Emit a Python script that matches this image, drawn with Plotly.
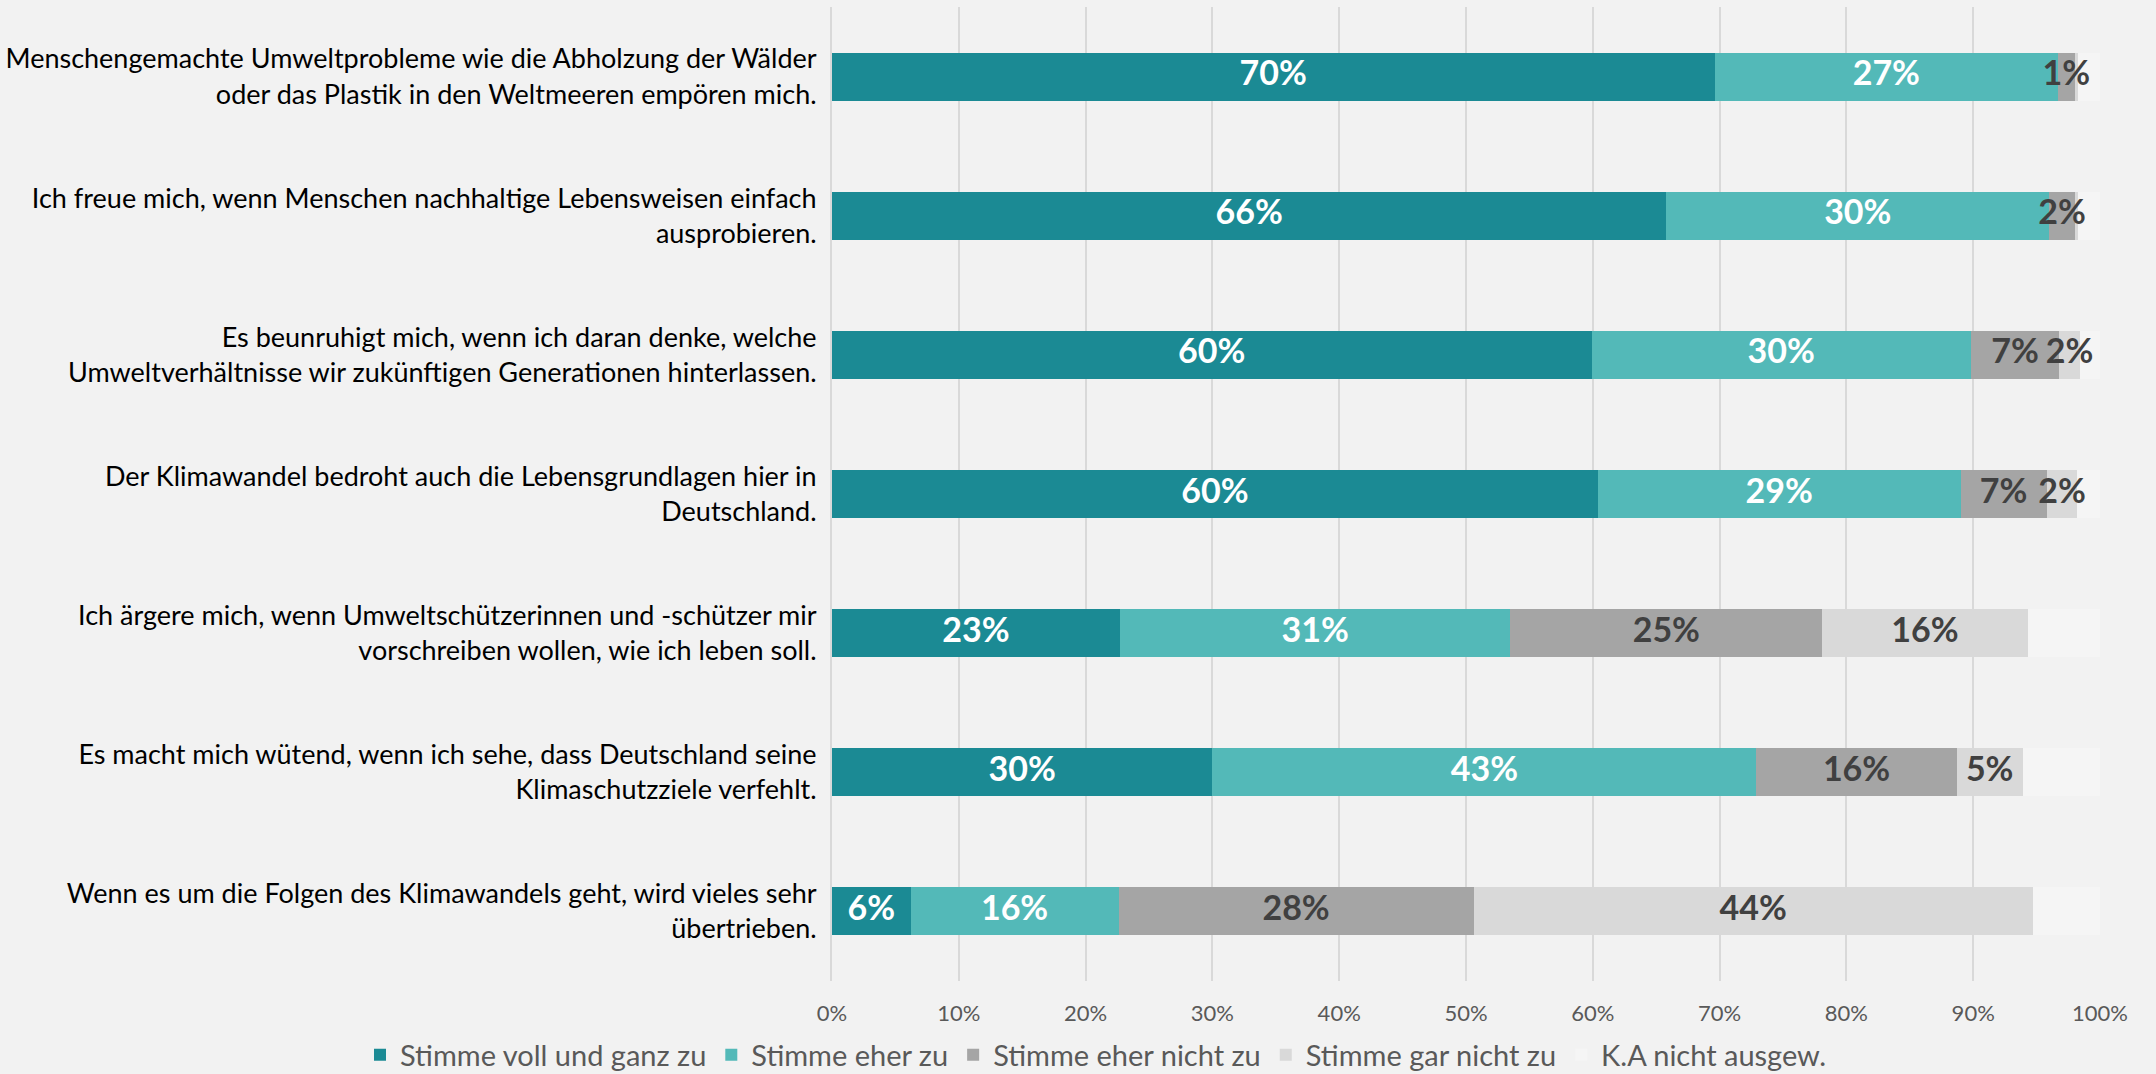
import plotly.graph_objects as go

categories = [
    "Menschengemachte Umweltprobleme wie die Abholzung der Wälder<br>oder das Plastik in den Weltmeeren empören mich.",
    "Ich freue mich, wenn Menschen nachhaltige Lebensweisen einfach<br>ausprobieren.",
    "Es beunruhigt mich, wenn ich daran denke, welche<br>Umweltverhältnisse wir zukünftigen Generationen hinterlassen.",
    "Der Klimawandel bedroht auch die Lebensgrundlagen hier in<br>Deutschland.",
    "Ich ärgere mich, wenn Umweltschützerinnen und -schützer mir<br>vorschreiben wollen, wie ich leben soll.",
    "Es macht mich wütend, wenn ich sehe, dass Deutschland seine<br>Klimaschutzziele verfehlt.",
    "Wenn es um die Folgen des Klimawandels geht, wird vieles sehr<br>übertrieben.",
]

voll_und_ganz = [69.6, 65.8, 59.9, 60.4, 22.7, 30.0, 6.2]
eher_zu = [27.1, 30.2, 29.9, 28.6, 30.8, 42.9, 16.4]
eher_nicht = [1.3, 2.0, 7.0, 6.8, 24.6, 15.8, 28.0]
gar_nicht = [0.3, 0.3, 1.6, 2.4, 16.2, 5.2, 44.1]
keine_angabe = [1.7, 1.7, 1.6, 1.8, 5.7, 6.1, 5.3]

series = [
    ("Stimme voll und ganz zu", voll_und_ganz, "#1B8A94", "#FFFFFF", True),
    ("Stimme eher zu", eher_zu, "#53B9B8", "#FFFFFF", True),
    ("Stimme eher nicht zu", eher_nicht, "#A5A5A5", "#404040", True),
    ("Stimme gar nicht zu", gar_nicht, "#D9D9D9", "#404040", True),
    ("K.A nicht ausgew.", keine_angabe, "#F5F5F5", "#404040", False),
]

tick_vals = [0, 10, 20, 30, 40, 50, 60, 70, 80, 90, 100]
tick_text = [f"{v}%" for v in tick_vals]

FONT = "Lato"
W, H = 2156, 1074
L, R, T, B = 832, 56, 7, 93
plot_h = H - T - B

fig = go.Figure()
for name, vals, color, tcolor, labelled in series:
    fig.add_trace(go.Bar(
        y=categories, x=vals, name=name, orientation="h",
        marker=dict(color=color, line=dict(width=0)),
        hoverinfo="skip",
    ))

# value labels drawn on top of all bars (centred in each segment)
starts = [0.0] * len(categories)
for name, vals, color, tcolor, labelled in series:
    mids, texts = [], []
    for i, v in enumerate(vals):
        mids.append(starts[i] + v / 2)
        texts.append(f"{v:.0f}%" if (labelled and v >= 1) else "")
        starts[i] += v
    if labelled:
        fig.add_trace(go.Scatter(
            x=mids, y=categories, mode="text", text=texts,
            textposition="middle center",
            textfont=dict(family=FONT, size=34, color=tcolor, weight="bold"),
            showlegend=False, hoverinfo="skip",
        ))

fig.update_layout(
    barmode="stack",
    bargap=0.655,
    width=W, height=H,
    paper_bgcolor="#F2F2F2", plot_bgcolor="#F2F2F2",
    margin=dict(l=L, r=R, t=T, b=B, autoexpand=False),
    font=dict(family=FONT),
    showlegend=True,
    legend=dict(
        orientation="h",
        x=(360 - L) / (W - L - R), xanchor="left",
        y=-(1055 - (H - B)) / plot_h, yanchor="middle",
        font=dict(family=FONT, size=29, color="#595959"),
        traceorder="normal", itemwidth=30, bgcolor="rgba(0,0,0,0)",
    ),
    xaxis=dict(
        range=[0, 100], tickvals=tick_vals, ticktext=tick_text,
        showgrid=True, gridcolor="#D9D9D9", gridwidth=2,
        zeroline=False, showline=False, automargin=False,
        tickfont=dict(family=FONT, size=22, color="#595959"),
        ticklabelstandoff=17, fixedrange=True,
    ),
    yaxis=dict(
        autorange="reversed", showgrid=False, zeroline=False,
        showline=True, linecolor="#D9D9D9", linewidth=2, automargin=False,
        tickfont=dict(family=FONT, size=27, color="#000000"),
        ticklabelstandoff=8, fixedrange=True,
    ),
)

fig.write_html("out.html", config={"displayModeBar": False},
               post_script="document.body.style.margin='0';")
